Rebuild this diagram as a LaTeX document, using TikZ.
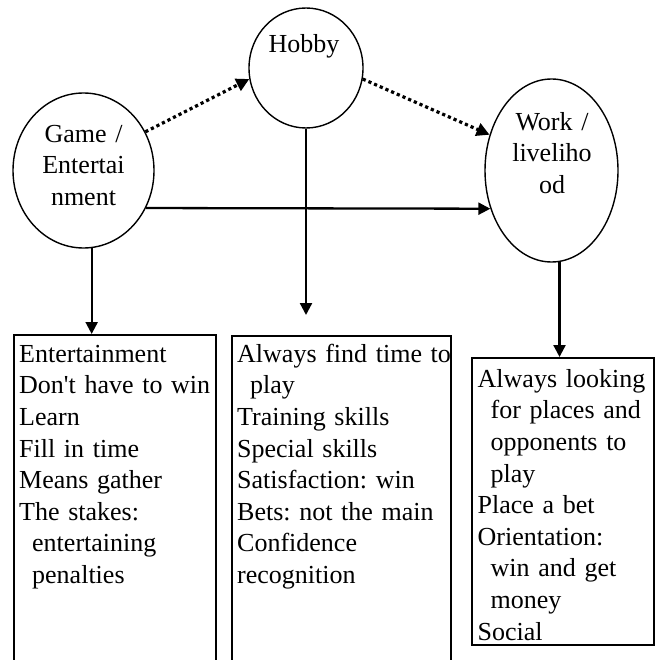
\documentclass[tikz,border=0pt]{standalone}
\usepackage{fontspec}
\setmainfont{Liberation Serif}[Ligatures=TeXOff]
\usetikzlibrary{arrows.meta,shapes.geometric}
\frenchspacing
\tikzset{
  txt/.style={font=\fontsize{26}{31.6}\selectfont\frenchspacing, inner sep=0pt, text width=240pt, align=left, anchor=north west},
  ctxt/.style={font=\fontsize{26}{31.6}\selectfont\frenchspacing, inner sep=0pt, text width=140pt, align=center, anchor=north},
  oval/.style={draw, ellipse, line width=1.4pt, inner sep=0pt},
  boxst/.style={draw, rectangle, line width=1.8pt, inner sep=0pt, anchor=north west},
  arr/.style={line width=2.3pt, -{Triangle[length=12pt,width=12pt]}},
  darr/.style={line width=3.2pt, dash pattern=on 3.2pt off 3pt, -{Triangle[length=13pt,width=13pt]}},
}
\begin{document}
\begin{tikzpicture}[x=1pt,y=-1pt]
\useasboundingbox (0,0) rectangle (657,660);
\clip (0,0) rectangle (657,660);
% ovals
\node[oval, minimum width=141pt, minimum height=155pt] (game) at (83.5,170.5) {};
\node[oval, minimum width=114pt, minimum height=120pt] (hobby) at (306,68) {};
\node[oval, minimum width=133pt, minimum height=183pt] (work) at (551.5,170.5) {};
\node[ctxt] (gamet) at (83.5,119.9) {\strut Game /\\Entertai\\nment};
\node[ctxt] (hobbyt) at (304,29.9) {\strut Hobby};
\node[ctxt] (workt) at (552,107.9) {\strut Work /\\liveliho\\od};
% boxes
\node[boxst, minimum width=202pt, minimum height=360pt] (b1) at (13,334) {};
\node[boxst, minimum width=219pt, minimum height=360pt] (b2) at (231,335) {};
\node[boxst, minimum width=182pt, minimum height=287pt] (b3) at (471,357) {};
\node[txt] (t1) at (19,339.9) {\strut Entertainment\\Don't have to win\\Learn\\Fill in time\\Means gather\\The stakes:\\\hspace*{13pt}entertaining\\\hspace*{13pt}penalties};
\node[txt] (t2) at (237,339.9) {\strut Always find time to\\\hspace*{13pt}play\\Training skills\\Special skills\\Satisfaction: win\\Bets: not the main\\Confidence\\recognition};
\node[txt] (t3) at (477.5,364.9) {\strut Always looking\\\hspace*{13pt}for places and\\\hspace*{13pt}opponents to\\\hspace*{13pt}play\\Place a bet\\Orientation:\\\hspace*{13pt}win and get\\\hspace*{13pt}money\\Social};
% connectors
\coordinate (hend) at (306,315);
\draw[arr] (game.-84) -- (game.-84 |- b1.north);
\draw[arr] (hobby.south) -- (hend);
\draw[arr] (work.-85.3) -- (work.-85.3 |- b3.north);
\draw[arr] (game.-31.3) -- (work.-148.3);
\draw[darr] (game.32.5) -- (hobby.191.9);
\draw[darr] (hobby.-11) -- (work.150);
\end{tikzpicture}
\end{document}
